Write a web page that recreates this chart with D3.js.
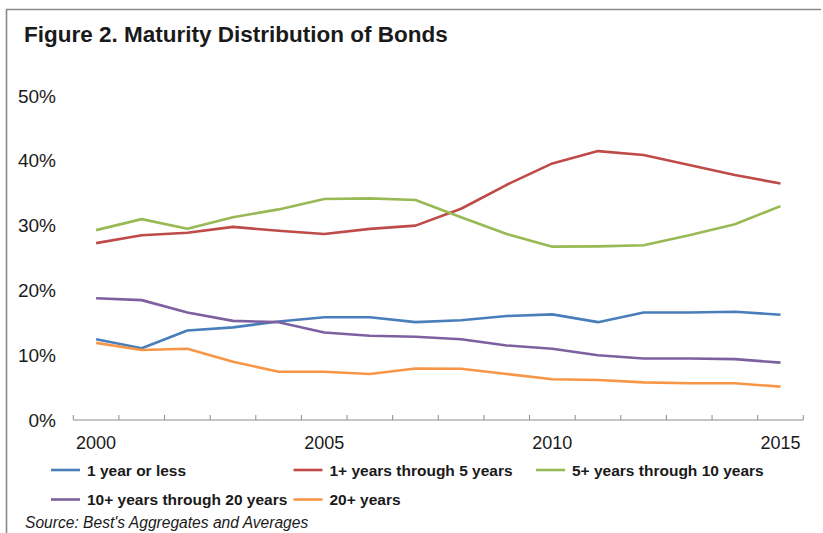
<!DOCTYPE html>
<meta charset="utf-8">
<script src="https://d3js.org/d3.v7.min.js"></script>
<style>
  body { margin: 0; background: #fff; }
  text { font-family: "Liberation Sans", Arial, sans-serif; fill: #1a1a1a; }
</style>
<div id="chart"></div>
<script>

// data (percent of bond holdings)
var years = d3.range(2000, 2016);
var yearLabels = [2000, 2005, 2010, 2015];
var yTicks = [0, 10, 20, 30, 40, 50];

var seriesNames = ["1 year or less", "1+ years through 5 years", "5+ years through 10 years",
                   "10+ years through 20 years", "20+ years"];
var seriesColors = ["#4a7ebb", "#be4b48", "#98b954", "#7d60a0", "#f79646"];

var oneYear     = [12.45, 11.06, 13.8, 14.3, 15.2, 15.85, 15.85, 15.1, 15.4, 16.05, 16.3, 15.1, 16.6, 16.6, 16.7, 16.25];
var oneToFive   = [27.3, 28.5, 28.9, 29.8, 29.2, 28.7, 29.5, 30.0, 32.6, 36.3, 39.6, 41.5, 40.9, 39.35, 37.8, 36.5];
var fiveToTen   = [29.3, 31.0, 29.5, 31.3, 32.5, 34.1, 34.2, 33.95, 31.3, 28.7, 26.75, 26.8, 26.96, 28.5, 30.2, 33.0];
var tenToTwenty = [18.8, 18.5, 16.6, 15.3, 15.1, 13.5, 13.0, 12.85, 12.45, 11.5, 11.0, 10.0, 9.5, 9.5, 9.4, 8.85];
var twentyPlus  = [11.9, 10.8, 11.0, 9.0, 7.45, 7.45, 7.1, 7.95, 7.9, 7.1, 6.28, 6.17, 5.8, 5.66, 5.66, 5.15];

var seriesValues = [oneYear, oneToFive, fiveToTen, tenToTwenty, twentyPlus];

var W = 823, H = 533;

var svg = d3.select("#chart").append("svg")
    .attr("width", W)
    .attr("height", H);

// frame (top + left edge of the box)
svg.append("path")
  .attr("d", "M6.5,533 V9.5 H821")
  .attr("fill", "none")
  .attr("stroke", "#8a8a8a")
  .attr("stroke-width", 1.6);

// title
svg.append("text")
  .attr("x", 24)
  .attr("y", 42)
  .style("font-size", "22.5px")
  .style("font-weight", "bold")
  .text("Figure 2. Maturity Distribution of Bonds");

// scales
var x = d3.scaleBand()
  .domain(years)
  .range([73.3, 803.3])
  .padding(0);

var y = d3.scaleLinear()
  .domain([0, 50])
  .range([420, 96]);

// y labels (no axis line)
svg.selectAll(".ylab")
  .data(yTicks)
  .enter()
  .append("text")
    .attr("class", "ylab")
    .attr("x", 56)
    .attr("y", function(d) { return y(d); })
    .attr("dy", "0.35em")
    .attr("text-anchor", "end")
    .style("font-size", "19px")
    .text(function(d) { return d + "%"; });

// x axis: line, ticks on category boundaries, labels every 5 years
var xAxis = svg.append("g");
xAxis.append("line")
  .attr("x1", x.range()[0])
  .attr("x2", x.range()[1])
  .attr("y1", y(0))
  .attr("y2", y(0))
  .attr("stroke", "#8c8c8c")
  .attr("stroke-width", 1);

var edges = years.map(function(d) { return x(d); }).concat([x.range()[1]]);
xAxis.selectAll(".tick")
  .data(edges)
  .enter()
  .append("line")
    .attr("x1", function(d) { return d; })
    .attr("x2", function(d) { return d; })
    .attr("y1", y(0) - 5)
    .attr("y2", y(0))
    .attr("stroke", "#8c8c8c")
    .attr("stroke-width", 1);

xAxis.selectAll(".xlab")
  .data(yearLabels)
  .enter()
  .append("text")
    .attr("x", function(d) { return x(d) + x.bandwidth() / 2; })
    .attr("y", 449)
    .attr("text-anchor", "middle")
    .style("font-size", "18px")
    .text(function(d) { return d; });

// lines
var line = d3.line()
  .x(function(d, i) { return x(years[i]) + x.bandwidth() / 2; })
  .y(function(d) { return y(d); });

svg.selectAll(".series")
  .data(seriesValues)
  .enter()
  .append("path")
    .attr("class", "series")
    .attr("d", line)
    .attr("fill", "none")
    .attr("stroke", function(d, i) { return seriesColors[i]; })
    .attr("stroke-width", 2.6)
    .attr("stroke-linejoin", "round");

// legend: 3 columns, 2 rows
var legend = svg.selectAll(".leg")
  .data(seriesNames)
  .enter()
  .append("g")
    .attr("class", "leg")
    .attr("transform", function(d, i) {
      return "translate(" + (51 + (i % 3) * 242.5) + "," + (i < 3 ? 470 : 499.5) + ")";
    });

legend.append("line")
  .attr("x1", 0)
  .attr("x2", 29)
  .attr("stroke", function(d, i) { return seriesColors[i]; })
  .attr("stroke-width", 2.6);

legend.append("text")
  .attr("x", 36)
  .attr("dy", "0.36em")
  .style("font-size", "15.5px")
  .style("font-weight", "bold")
  .text(function(d) { return d; });

// source note
svg.append("text")
  .attr("x", 25)
  .attr("y", 528)
  .style("font-size", "15.6px")
  .style("font-style", "italic")
  .text("Source: Best's Aggregates and Averages");

</script>
